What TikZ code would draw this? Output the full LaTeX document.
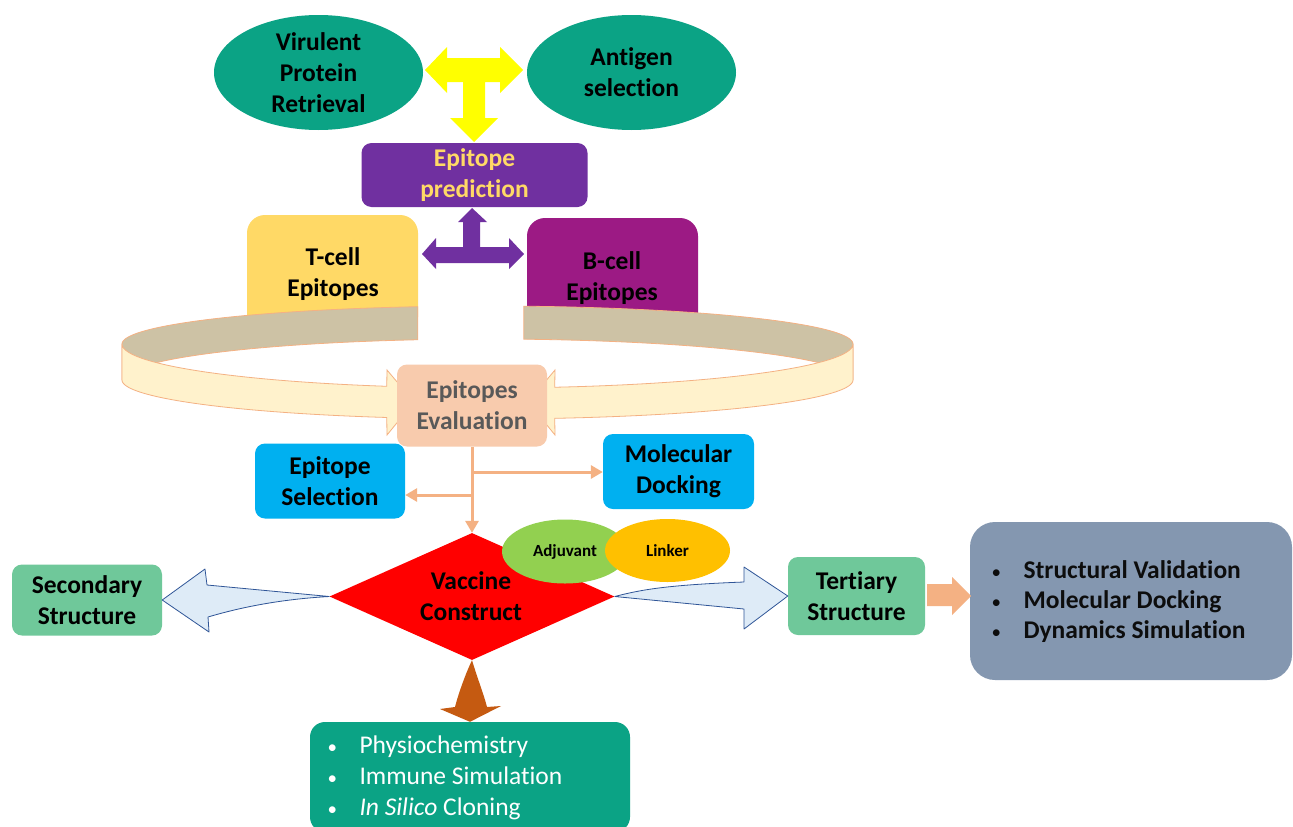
\documentclass[tikz,border=0pt]{standalone}
\usepackage{fontspec}
\setmainfont{Carlito}[Ligatures={NoCommon}]
\usetikzlibrary{shapes.geometric,arrows.meta,calc}
\definecolor{tealA}{HTML}{0BA385}
\definecolor{epurple}{HTML}{7030A0}
\definecolor{goldT}{HTML}{FFD966}
\definecolor{bpurple}{HTML}{9C1A84}
\definecolor{evalF}{HTML}{F8CBAD}
\definecolor{evalT}{HTML}{595959}
\definecolor{skyB}{HTML}{00B0F0}
\definecolor{greenB}{HTML}{6FC89A}
\definecolor{adjG}{HTML}{92D050}
\definecolor{linkY}{HTML}{FFC000}
\definecolor{arrB}{HTML}{DEEBF7}
\definecolor{arrBL}{HTML}{2F5597}
\definecolor{orangeL}{HTML}{F4B183}
\definecolor{brownA}{HTML}{C55A11}
\definecolor{slateB}{HTML}{8497B0}
\definecolor{tanC}{HTML}{CDC2A5}
\definecolor{creamC}{HTML}{FFF2CC}
\definecolor{yellowA}{HTML}{FFFF00}
\newcommand{\blt}{\makebox[32pt][l]{\fontsize{19}{19}\selectfont\mdseries •}}
\begin{document}
\begin{tikzpicture}[x=1pt,y=-1pt,
  lbl/.style={font=\fontsize{25.5}{31}\selectfont\bfseries, align=center},
  small/.style={font=\fontsize{17}{20}\selectfont\bfseries, align=center},
  rbox/.style={rectangle, rounded corners=10pt, inner sep=0pt},
  oval/.style={ellipse, inner sep=0pt},
  oline/.style={draw=orangeL, line width=3pt, -{Triangle[length=12pt,width=13pt]}},
  ringpart/.style={draw=orangeL, line width=0.8pt},
  barrow/.style={fill=arrB, draw=arrBL, line width=0.8pt, line join=round}]
\useasboundingbox (0,0) rectangle (1293,827);
\fill[white] (0,0) rectangle (1293,827);
\clip (0,0) rectangle (1293,827);

% top ellipses
\node[oval, fill=tealA, minimum width=209pt, minimum height=115pt] (vpr) at (318.5,72.5) {};
\node[lbl] (vprt) at (vpr.center) {Virulent\\Protein\\Retrieval};
\node[oval, fill=tealA, minimum width=209pt, minimum height=115pt] (as) at (631.5,72.5) {};
\node[lbl] (ast) at (as.center) {Antigen\\selection};

% yellow T arrow
\fill[yellowA] (425,70) -- (447,47) -- (447,58) -- (500,58) -- (500,47) -- (523,70)
  -- (500,93) -- (500,82) -- (485,82) -- (485,118) -- (498,118) -- (474,142)
  -- (450,118) -- (463,118) -- (463,82) -- (447,82) -- (447,93) -- cycle;

% epitope prediction
\node[rbox, fill=epurple, minimum width=226pt, minimum height=64pt, lbl, text=goldT] (ep) at (474.5,175) {Epitope\\prediction};

% purple arrow
\fill[epurple] (472,208) -- (487,222) -- (480,222) -- (480,247) -- (509,247) -- (509,238)
  -- (524,254) -- (509,269) -- (509,263) -- (436,263) -- (436,269) -- (422,254)
  -- (436,238) -- (436,247) -- (463,247) -- (463,222) -- (458,222) -- cycle;

% T-cell / B-cell
\node[rectangle, rounded corners=18pt, fill=goldT, minimum width=171pt, minimum height=120pt, inner sep=0pt] (tc) at (332.5,275) {};
\node[lbl] (tct) at (333,274) {T-cell\\Epitopes};
\node[rectangle, rounded corners=18pt, fill=bpurple, minimum width=171pt, minimum height=117pt, inner sep=0pt] (bc) at (612.5,276.5) {};
\node[lbl] (bct) at (612,278) {B-cell\\Epitopes};

% ring: back parts
\filldraw[ringpart, fill=tanC] plot[domain=180:259,samples=50] ({487.5+365.5*cos(\x)},{344+38*sin(\x)})
  -- plot[domain=259:180,samples=50] ({487.5+365.5*cos(\x)},{380+41*sin(\x)}) -- cycle;
\filldraw[ringpart, fill=tanC] plot[domain=275.7:360,samples=50] ({487.5+365.5*cos(\x)},{344+38*sin(\x)})
  -- plot[domain=360:275.7,samples=50] ({487.5+365.5*cos(\x)},{380+41*sin(\x)}) -- cycle;
% ring: front parts
\filldraw[ringpart, fill=creamC] plot[domain=180:106,samples=50] ({487.5+365.5*cos(\x)},{344+44*sin(\x)})
  -- (387,370) -- (414,402) -- (387,435)
  -- plot[domain=106:180,samples=50] ({487.5+365.5*cos(\x)},{380+39*sin(\x)}) -- cycle;
\filldraw[ringpart, fill=creamC] plot[domain=0:79.4,samples=50] ({487.5+365.5*cos(\x)},{344+44*sin(\x)})
  -- (555,370) -- (528,402) -- (555,435)
  -- plot[domain=79.4:0,samples=50] ({487.5+365.5*cos(\x)},{380+39*sin(\x)}) -- cycle;

% evaluation
\node[rbox, fill=evalF, minimum width=150pt, minimum height=82pt, lbl, text=evalT] (ev) at (472,405.5) {Epitopes\\Evaluation};

% selection / docking
\node[rbox, fill=skyB, minimum width=150pt, minimum height=75pt, lbl] (es) at (330,481) {Epitope\\Selection};
\node[rbox, fill=skyB, minimum width=151pt, minimum height=75pt, lbl] (md) at (678.5,471.5) {Molecular\\Docking};

% vaccine construct
\node[diamond, aspect=2.24, fill=red, minimum width=285pt, minimum height=127pt, inner sep=0pt] (vc) at (472,596.5) {};

% orange connectors
\coordinate (j1) at (472,472);
\coordinate (j2) at (472,495);
\draw[oline] (ev.south) -- (vc.north);
\draw[oline] (j1) -- (md.west |- j1);
\draw[oline] (j2) -- (es.east |- j2);

\node[oval, fill=adjG, minimum width=126pt, minimum height=64pt, small] (adj) at (565,551.5) {Adjuvant};
\node[oval, fill=linkY, minimum width=125pt, minimum height=63pt, small] (lk) at (667.5,550.5) {Linker};
\node[lbl] (vct) at (471,596) {Vaccine\\Construct};

% side boxes
\node[rbox, fill=greenB, minimum width=150pt, minimum height=71pt, lbl] (sec) at (87,600) {Secondary\\Structure};
\node[rbox, fill=greenB, minimum width=137pt, minimum height=78pt, lbl] (ter) at (856.5,596) {Tertiary\\Structure};

% blue block arrows
\draw[barrow] (vc.west) -- (207,585) -- (205,569) -- (sec.east) -- (209,632) -- (208,617)
  .. controls (245,606) and (285,599) .. (vc.west) -- cycle;
\draw[barrow] (vc.east) .. controls (640,590) and (665,585) .. (744,582) -- (744,567)
  -- (ter.west) -- (744,629) -- (744,609) -- (vc.east) -- cycle;

% right box
\node[rectangle, rounded corners=25pt, fill=slateB, minimum width=322pt, minimum height=158pt, inner sep=0pt] (rb) at (1131,601) {};
\node[anchor=west, font=\fontsize{25.5}{30}\selectfont\bfseries, align=left, text=black!95] (rbt) at (988,602)
  {\blt Structural Validation\\\blt Molecular Docking\\\blt Dynamics Simulation};

% orange block arrow
\fill[orangeL] (927,584) -- (952,584) -- (952,577) -- (971,596) -- (952,615) -- (952,606) -- (927,606) -- cycle;

% bottom box
\node[rectangle, rounded corners=15pt, fill=tealA, minimum width=320pt, minimum height=110pt, inner sep=0pt] (bb) at (470,777) {};
\node[anchor=west, font=\fontsize{25.5}{31}\selectfont, align=left, text=white] (bbt) at (324,778)
  {\blt Physiochemistry\\\blt Immune Simulation\\\blt \textit{In Silico} Cloning};

% brown arrow
\fill[brownA] (vc.south) .. controls (478,680) and (484,695) .. (487,707) -- (501,706) -- (bb.north)
  -- (440,709) -- (455,707) .. controls (458,695) and (465,675) .. (vc.south) -- cycle;
\end{tikzpicture}
\end{document}
